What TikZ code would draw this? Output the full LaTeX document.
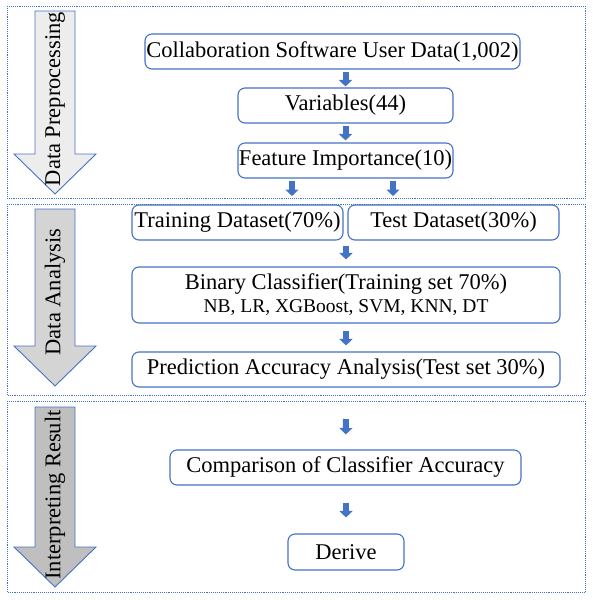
\documentclass[tikz,border=0pt]{standalone}
\usepackage{fontspec}
\setmainfont{Liberation Serif}
\usetikzlibrary{arrows.meta}
\definecolor{stepblue}{HTML}{4472C4}
\begin{document}
\begin{tikzpicture}
    [x=1pt,y=-1pt,
    panel/.style={draw=stepblue,densely dotted,line width=0.9pt},
    stage/.style={draw=stepblue,line width=0.9pt,line join=miter},
    stagetext/.style={rotate=90,font=\fontsize{22.5}{26}\selectfont},
    box/.style={draw=stepblue,line width=1.1pt,rounded corners=7pt,
      inner sep=0pt,minimum height=35pt,font=\fontsize{22.5}{26}\selectfont},
    blk/.style={stepblue,line width=6pt,-{Triangle[width=13pt,length=6.5pt]}}]
    \useasboundingbox (0,0) rectangle (592,600);
    % three dotted panels
    \draw[panel] (7,6) rectangle (585,198);
    \draw[panel] (7,204) rectangle (585,395);
    \draw[panel] (7,401) rectangle (585,592);
    % stage arrows on the left
    \draw[stage,fill=black!7] (35,11) -- (75,11) -- (75,154) -- (96,154)
      -- (55,194) -- (14,154) -- (35,154) -- cycle;
    \node[stagetext] (pre) at (55,99) {Data Preprocessing};
    \draw[stage,fill=black!17] (35,209) -- (75,209) -- (75,346) -- (96,346)
      -- (55,386) -- (14,346) -- (35,346) -- cycle;
    \node[stagetext] (ana) at (55,292) {Data Analysis};
    \draw[stage,fill=black!25] (35,407) -- (75,407) -- (75,547) -- (96,547)
      -- (55,587) -- (14,547) -- (35,547) -- cycle;
    \node[stagetext] (int) at (55,495) {Interpreting Result};
    % steps
    \node[box,minimum width=375pt] (coll) at (332.5,51.5)
      {Collaboration Software User Data(1,002)};
    \node[box,minimum width=215pt] (vars) at (345.5,105.5) {Variables(44)};
    \node[box,minimum width=215pt] (feat) at (345.5,160.5)
      {Feature Importance(10)};
    \node[box,minimum width=211pt] (train) at (237.5,222.5)
      {Training Dataset(70\%)};
    \node[box,minimum width=211pt] (test) at (453.5,222.5)
      {Test Dataset(30\%)};
    \node[box,minimum width=428pt,minimum height=56pt,align=center]
      (binary) at (346,295)
      {Binary Classifier(Training set 70\%)\\[-3pt]
      {\fontsize{19.5}{22}\selectfont NB, LR, XGBoost, SVM, KNN, DT}};
    \node[box,minimum width=428pt] (pred) at (346,369.5)
      {Prediction Accuracy Analysis(Test set 30\%)};
    \node[box,minimum width=351pt] (comp) at (345.5,467.5)
      {Comparison of Classifier Accuracy};
    \node[box,minimum width=116pt,minimum height=36pt] (derive) at (346,552)
      {Derive};
    % free ends
    \coordinate (splitl) at (292,197);
    \coordinate (splitr) at (393,197);
    \coordinate (start) at (346,418);
    % small arrows
    \draw[blk,shorten <=2pt,shorten >=1pt] (coll.south -| vars.north) -- (vars.north);
    \draw[blk,shorten <=2pt,shorten >=2pt] (vars.south) -- (feat.north);
    \draw[blk,shorten <=2pt,shorten >=1pt] (feat.south -| splitl) -- (splitl);
    \draw[blk,shorten <=2pt,shorten >=1pt] (feat.south -| splitr) -- (splitr);
    \draw[blk,shorten <=5pt,shorten >=7pt] (train.south -| binary.north) -- (binary.north);
    \draw[blk,shorten <=7pt,shorten >=6pt] (binary.south) -- (pred.north);
    \draw[blk,shorten <=1pt,shorten >=15pt] (start) -- (comp.north);
    \draw[blk,shorten <=17pt,shorten >=16pt] (comp.south -| derive.north) -- (derive.north);
\end{tikzpicture}
\end{document}
